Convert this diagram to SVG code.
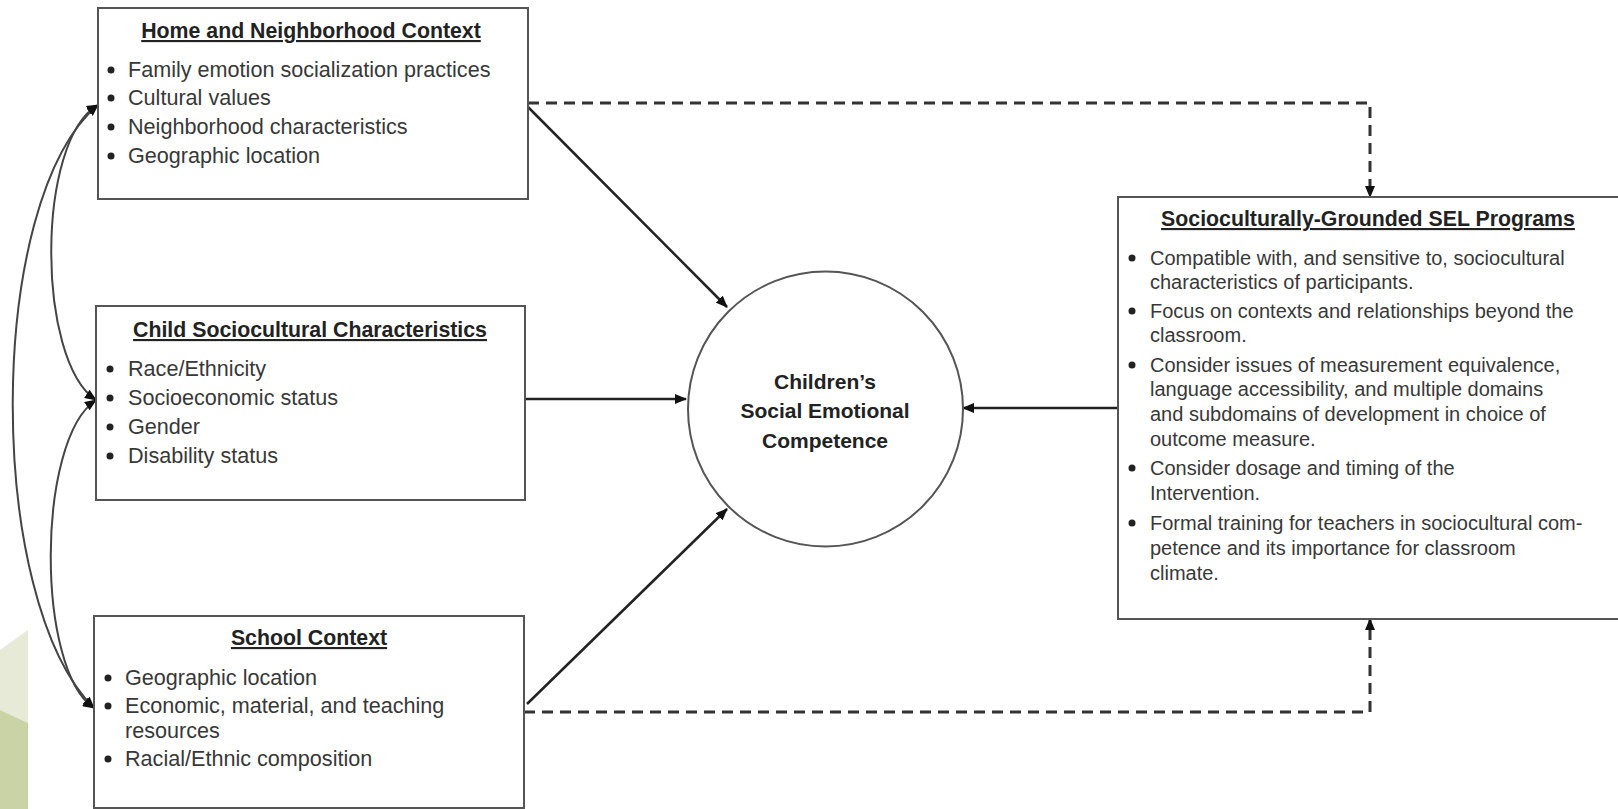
<svg xmlns="http://www.w3.org/2000/svg" width="1618" height="809" viewBox="0 0 1618 809">
<style>
.box{fill:#fff;stroke:#555;stroke-width:2}
.t{font-family:"Liberation Sans",Arial,sans-serif;font-size:21.6px;fill:#383838}
.s{font-family:"Liberation Sans",Arial,sans-serif;font-size:20px;fill:#383838}
.h{font-family:"Liberation Sans",Arial,sans-serif;font-size:21.3px;font-weight:bold;fill:#222;text-decoration:underline;text-anchor:middle}
.c{font-family:"Liberation Sans",Arial,sans-serif;font-size:21px;font-weight:bold;fill:#222;text-anchor:middle}
.b{fill:#222}
.ln{fill:none;stroke:#222;stroke-width:2.5}
.dash{fill:none;stroke:#333;stroke-width:3;stroke-dasharray:11 7}
.curve{fill:none;stroke:#444;stroke-width:2}
</style>
<defs>
<marker id="ah" viewBox="0 0 12 10" refX="11" refY="5" markerWidth="12" markerHeight="10" markerUnits="userSpaceOnUse" orient="auto-start-reverse">
<path d="M0,0 L12,5 L0,10 Z" fill="#111"/>
</marker>
</defs>
<rect width="1618" height="809" fill="#fff"/>
<g id="bg">
<polygon points="0,650 28,630 28,723 0,710" fill="#e6ead6"/>
<polygon points="0,710 28,723 28,809 0,809" fill="#c9d3a6"/>
</g>
<g id="connectors">
<line class="ln" x1="528" y1="107" x2="727" y2="307" marker-end="url(#ah)"/>
<line class="ln" x1="525" y1="399" x2="686" y2="399" marker-end="url(#ah)"/>
<line class="ln" x1="527" y1="704" x2="727" y2="509" marker-end="url(#ah)"/>
<line class="ln" x1="1118" y1="408" x2="963" y2="408" marker-end="url(#ah)"/>
<path class="dash" d="M528,103 H1370 V197" marker-end="url(#ah)"/>
<path class="dash" d="M524,712 H1370 V619" marker-end="url(#ah)"/>
<path class="curve" d="M98,105 C36,140 36,360 96,400" marker-start="url(#ah)" marker-end="url(#ah)"/>
<path class="curve" d="M96,400 C36,440 36,670 94,708" marker-start="url(#ah)" marker-end="url(#ah)"/>
<path class="curve" d="M98,105 C-15,200 -15,600 94,708" marker-start="url(#ah)" marker-end="url(#ah)"/>
</g>
<g id="home">
<rect class="box" x="98" y="8" width="430" height="191"/>
<text class="h" x="311" y="38">Home and Neighborhood Context</text>
<circle class="b" cx="111" cy="70" r="3.5"/><text class="t" x="128" y="77">Family emotion socialization practices</text>
<circle class="b" cx="111" cy="98" r="3.5"/><text class="t" x="128" y="105">Cultural values</text>
<circle class="b" cx="111" cy="127" r="3.5"/><text class="t" x="128" y="134">Neighborhood characteristics</text>
<circle class="b" cx="111" cy="156" r="3.5"/><text class="t" x="128" y="163">Geographic location</text>
</g>
<g id="child">
<rect class="box" x="96" y="306" width="429" height="194"/>
<text class="h" x="310" y="337">Child Sociocultural Characteristics</text>
<circle class="b" cx="110" cy="369" r="3.5"/><text class="t" x="128" y="376">Race/Ethnicity</text>
<circle class="b" cx="110" cy="398" r="3.5"/><text class="t" x="128" y="405">Socioeconomic status</text>
<circle class="b" cx="110" cy="427" r="3.5"/><text class="t" x="128" y="434">Gender</text>
<circle class="b" cx="110" cy="456" r="3.5"/><text class="t" x="128" y="463">Disability status</text>
</g>
<g id="school">
<rect class="box" x="94" y="616" width="430" height="192"/>
<text class="h" x="309" y="645">School Context</text>
<circle class="b" cx="108" cy="678" r="3.5"/><text class="t" x="125" y="685">Geographic location</text>
<circle class="b" cx="108" cy="706" r="3.5"/><text class="t" x="125" y="713">Economic, material, and teaching</text>
<text class="t" x="125" y="738">resources</text>
<circle class="b" cx="108" cy="759" r="3.5"/><text class="t" x="125" y="766">Racial/Ethnic composition</text>
</g>
<g id="competence">
<circle cx="825.5" cy="409" r="137.5" fill="#fff" stroke="#555" stroke-width="2"/>
<text class="c" x="825" y="389">Children’s</text>
<text class="c" x="825" y="418">Social Emotional</text>
<text class="c" x="825" y="448">Competence</text>
</g>
<g id="sel">
<rect class="box" x="1118" y="197" width="510" height="422"/>
<text class="h" x="1368" y="226">Socioculturally-Grounded SEL Programs</text>
<circle class="b" cx="1132" cy="258" r="3.5"/><text class="s" x="1150" y="265">Compatible with, and sensitive to, sociocultural</text>
<text class="s" x="1150" y="289">characteristics of participants.</text>
<circle class="b" cx="1132" cy="311" r="3.5"/><text class="s" x="1150" y="318">Focus on contexts and relationships beyond the</text>
<text class="s" x="1150" y="342">classroom.</text>
<circle class="b" cx="1132" cy="365" r="3.5"/><text class="s" x="1150" y="372">Consider issues of measurement equivalence,</text>
<text class="s" x="1150" y="396">language accessibility, and multiple domains</text>
<text class="s" x="1150" y="421">and subdomains of development in choice of</text>
<text class="s" x="1150" y="446">outcome measure.</text>
<circle class="b" cx="1132" cy="468" r="3.5"/><text class="s" x="1150" y="475">Consider dosage and timing of the</text>
<text class="s" x="1150" y="500">Intervention.</text>
<circle class="b" cx="1132" cy="523" r="3.5"/><text class="s" x="1150" y="530">Formal training for teachers in sociocultural com-</text>
<text class="s" x="1150" y="555">petence and its importance for classroom</text>
<text class="s" x="1150" y="580">climate.</text>
</g>
</svg>
